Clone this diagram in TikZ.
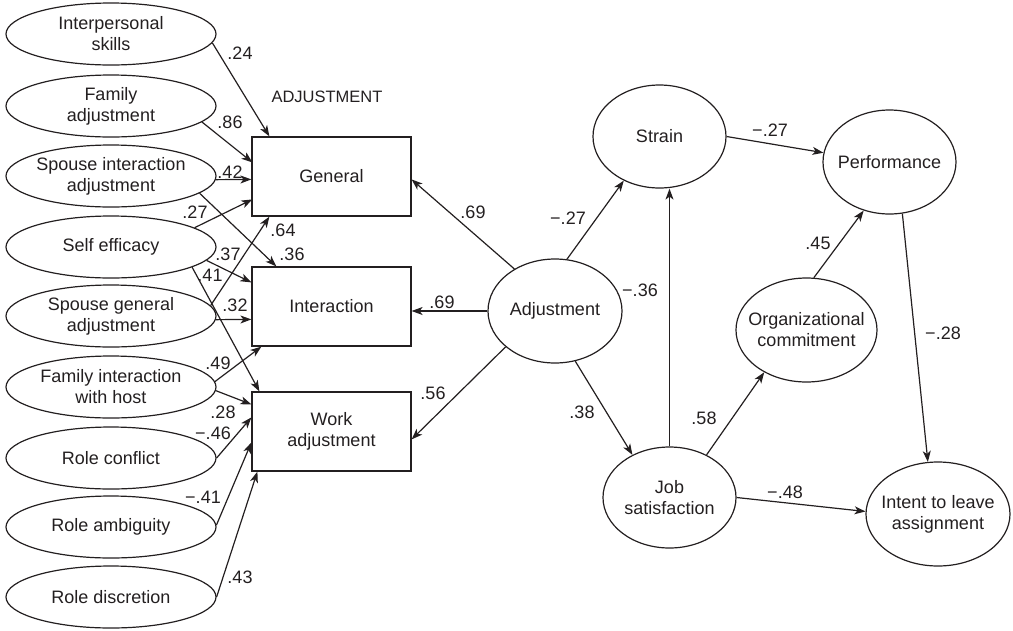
\documentclass[tikz,border=0pt]{standalone}
\usepackage{fontspec}
\setmainfont{Liberation Sans}
\usetikzlibrary{shapes.geometric,arrows.meta,calc}
\definecolor{ink}{RGB}{35,31,32}
\begin{document}
\begin{tikzpicture}[x=1pt,y=-1pt,
  font=\fontsize{18}{21}\selectfont, color=ink,
  ell/.style={ellipse, draw=ink, line width=1.2pt, inner ysep=0pt, inner xsep=-12pt, align=center},
  side/.style={ell, minimum width=210pt, minimum height=62pt},
  core/.style={ell, minimum width=133pt, minimum height=103pt},
  facet/.style={rectangle, draw=ink, line width=1.2pt, minimum width=159pt, minimum height=79pt, inner sep=0pt, align=center},
  arr/.style={draw=ink, line width=1.2pt, -{Stealth[length=11pt,width=8pt,inset=3pt]}},
  coef/.style={inner sep=0pt}]
\useasboundingbox (0,0) rectangle (1013,630);

% antecedents
\node[side] (ips) at (111,34)  {Interpersonal\\skills};
\node[side] (fam) at (111,106) {Family\\adjustment};
\node[side] (spi) at (111,176) {Spouse interaction\\adjustment};
\node[side] (sef) at (111,247) {Self efficacy};
\node[side] (spg) at (111,316) {Spouse general\\adjustment};
\node[side] (fih) at (111,387) {Family interaction\\with host};
\node[side] (rcf) at (111,458) {Role conflict};
\node[side] (rab) at (111,527) {Role ambiguity};
\node[side] (rds) at (111,597) {Role discretion};

% adjustment facets
\node[coef, font=\fontsize{16.5}{20}\selectfont] (head) at (327,97) {ADJUSTMENT};
\node[facet] (gen) at (331.5,176.5) {General};
\node[facet] (int) at (331.5,306.5) {Interaction};
\node[facet] (wrk) at (331.5,431.5) {Work\\adjustment};

% outcome model
\node[ell, minimum width=134pt, minimum height=104pt] (adj) at (555,311) {Adjustment};
\node[core] (str) at (659.5,136.5) {Strain};
\node[ell, minimum width=133pt, minimum height=104pt] (prf) at (889.5,162) {Performance};
\node[ell, minimum width=141pt, minimum height=104pt] (org) at (806.5,330) {Organizational\\commitment};
\node[ell, minimum width=133pt, minimum height=101pt] (job) at (669.5,497.5) {Job\\satisfaction};
\node[ell, minimum width=144pt, minimum height=104pt] (itl) at (938,514) {Intent to leave\\assignment};

% paths into General
\draw[arr] (ips.-5)  -- ($(gen.north west)+(18,0)$);
\draw[arr] (fam.-10) -- ($(gen.north west)+(1,26)$);
\draw[arr] (spi.-2)  -- ($(gen.north west)+(0,43)$);
\draw[arr] (sef.13)  -- ($(gen.north west)+(1,63)$);
\draw[arr] (spg.6)   -- ($(gen.south west)+(18,0)$);

% paths into Interaction
\draw[arr] (spi.-11) -- ($(int.north west)+(25,0)$);
\draw[arr] (sef.-8)  -- ($(int.north west)+(0,16)$);
\draw[arr] (spg.-2)  -- ($(int.north west)+(0,53)$);
\draw[arr] (fih.3)   -- ($(int.south west)+(10,0)$);

% paths into Work adjustment
\draw[arr] (sef.-14.5) -- ($(wrk.north west)+(8,0)$);
\draw[arr] (fih.-2)  -- ($(wrk.north west)+(0,13)$);
\draw[arr] (rcf.0)   -- ($(wrk.north west)+(0,26)$);
\draw[arr] (rab.1)   -- ($(wrk.north west)+(0,51)$);
\draw[arr] (rds.0)   -- ($(wrk.south west)+(6,0)$);

% coefficients on the left
\node[coef] (c1)  at (240,53)  {.24};
\node[coef] (c2)  at (230,122) {.86};
\node[coef] (c3)  at (230,172) {.42};
\node[coef] (c4)  at (195,212) {.27};
\node[coef] (c5)  at (283,230) {.64};
\node[coef] (c6)  at (292,254) {.36};
\node[coef] (c7)  at (228,254) {.37};
\node[coef] (c8)  at (210,275) {.41};
\node[coef] (c9)  at (235,305) {.32};
\node[coef] (c10) at (218,363) {.49};
\node[coef] (c11) at (223,412) {.28};
\node[coef] (c12) at (213,433) {−.46};
\node[coef] (c13) at (203,497) {−.41};
\node[coef] (c14) at (240,577) {.43};

% adjustment to its facets
\draw[arr] (adj.134)   -- ($(gen.north east)+(0,43)$);
\draw[arr] (adj.west)  -- (adj.west -| int.east);
\draw[arr] (adj.216.5) -- ($(wrk.north east)+(0,48)$);

% outcome paths
\draw[arr] (adj.77)    -- (str.231);
\draw[arr] (adj.-68.6) -- (job.131.6);
\draw[arr] (job.north) -- (job.north |- str.south);
\draw[arr] (job.49)    -- (org.225.3);
\draw[arr] (job.east)  -- (itl.178.4);
\draw[arr] (str.east)  -- (prf.172);
\draw[arr] (org.82.7)  -- (prf.-118);
\draw[arr] (prf.-76.7) -- (itl.101.3);

% coefficients on the right
\node[coef] (d1)  at (473,212) {.69};
\node[coef] (d2)  at (442,302) {.69};
\node[coef] (d3)  at (433,393) {.56};
\node[coef] (d4)  at (568,218) {−.27};
\node[coef] (d5)  at (640,290) {−.36};
\node[coef] (d6)  at (582,412) {.38};
\node[coef] (d7)  at (704,418) {.58};
\node[coef] (d8)  at (785,492) {−.48};
\node[coef] (d9)  at (770,130) {−.27};
\node[coef] (d10) at (818,243) {.45};
\node[coef] (d11) at (943,333) {−.28};
\end{tikzpicture}
\end{document}
